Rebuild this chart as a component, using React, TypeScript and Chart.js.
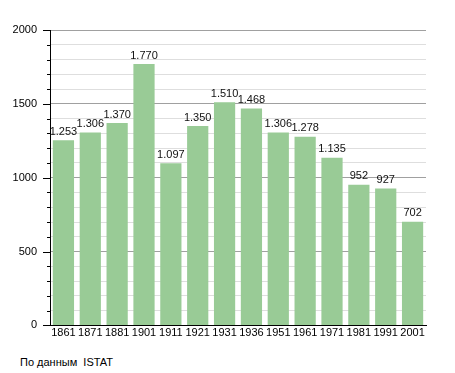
import React, { useEffect, useRef } from "react";
import { Chart, registerables } from "chart.js";

Chart.register(...registerables);

const years = ["1861", "1871", "1881", "1901", "1911", "1921", "1931", "1936", "1951", "1961", "1971", "1981", "1991", "2001"];
const population = [1253, 1306, 1370, 1770, 1097, 1350, 1510, 1468, 1306, 1278, 1135, 952, 927, 702];
const yMax = 2000;
const yStep = 100;
const majorStep = 500;
const sourceText = "По данным  ISTAT";

const FONT = "'Liberation Sans', Arial, sans-serif";

const fmt = (v: number) => {
  const s = String(v);
  return s.length > 3 ? s.slice(0, s.length - 3) + "." + s.slice(s.length - 3) : s;
};

const extrasPlugin = {
  id: "extras",
  afterDatasetsDraw(chart: any) {
    const ctx = chart.ctx;
    const y = chart.scales.y;
    const area = chart.chartArea;
    ctx.save();
    ctx.strokeStyle = "#000";
    ctx.lineWidth = 1;
    for (let v = 0; v <= yMax; v += yStep) {
      const py = Math.round(y.getPixelForValue(v)) + 0.5;
      const len = v % majorStep === 0 ? 7 : 3;
      ctx.beginPath();
      ctx.moveTo(area.left - len, py);
      ctx.lineTo(area.left, py);
      ctx.stroke();
    }
    const meta = chart.getDatasetMeta(0);
    ctx.fillStyle = "#111";
    ctx.font = `11px ${FONT}`;
    ctx.textAlign = "center";
    ctx.textBaseline = "bottom";
    meta.data.forEach((bar: any, i: number) => {
      ctx.fillText(fmt(population[i]), bar.x, bar.y - 3);
    });
    ctx.restore();
  },
};

export default function App() {
  const ref = useRef<HTMLCanvasElement | null>(null);
  useEffect(() => {
    if (!ref.current) return;
    const chart = new Chart(ref.current, {
      type: "bar",
      data: {
        labels: years,
        datasets: [
          {
            data: population,
            backgroundColor: "#99cb96",
            barPercentage: 0.79,
            categoryPercentage: 1,
          },
        ],
      },
      options: {
        animation: false,
        responsive: false,
        layout: { padding: { left: 0, right: 29, top: 30, bottom: 0 } },
        plugins: { legend: { display: false }, tooltip: { enabled: false } },
        scales: {
          x: {
            offset: true,
            grid: { display: false, drawTicks: false },
            border: { color: "#000", width: 1 },
            ticks: { color: "#000", font: { family: FONT, size: 11 }, padding: 1, maxRotation: 0, autoSkip: false },
          },
          y: {
            min: 0,
            max: yMax,
            afterFit(scale: any) {
              scale.width = 50;
            },
            grid: {
              drawTicks: false,
              color: (c: any) => (c.tick && c.tick.value % majorStep === 0 ? "#a0a0a0" : "#dedede"),
            },
            border: { color: "#000", width: 1 },
            ticks: {
              stepSize: yStep,
              autoSkip: false,
              padding: 13,
              color: "#000",
              font: { family: FONT, size: 11 },
              callback: (v: any) => (Number(v) % majorStep === 0 ? String(v) : ""),
            },
          },
        },
      },
      plugins: [extrasPlugin],
    });
    return () => chart.destroy();
  }, []);
  return (
    <div style={{ position: "fixed", left: 0, top: 0, width: 455, height: 373, background: "#fff" }}>
      <canvas ref={ref} width={455} height={345} style={{ position: "absolute", left: 0, top: 0 }} />
      <div
        style={{
          position: "absolute",
          left: 20,
          top: 356,
          fontFamily: FONT,
          fontSize: 11,
          color: "#000",
          whiteSpace: "pre",
          lineHeight: "13px",
        }}
      >
        {sourceText}
      </div>
    </div>
  );
}
